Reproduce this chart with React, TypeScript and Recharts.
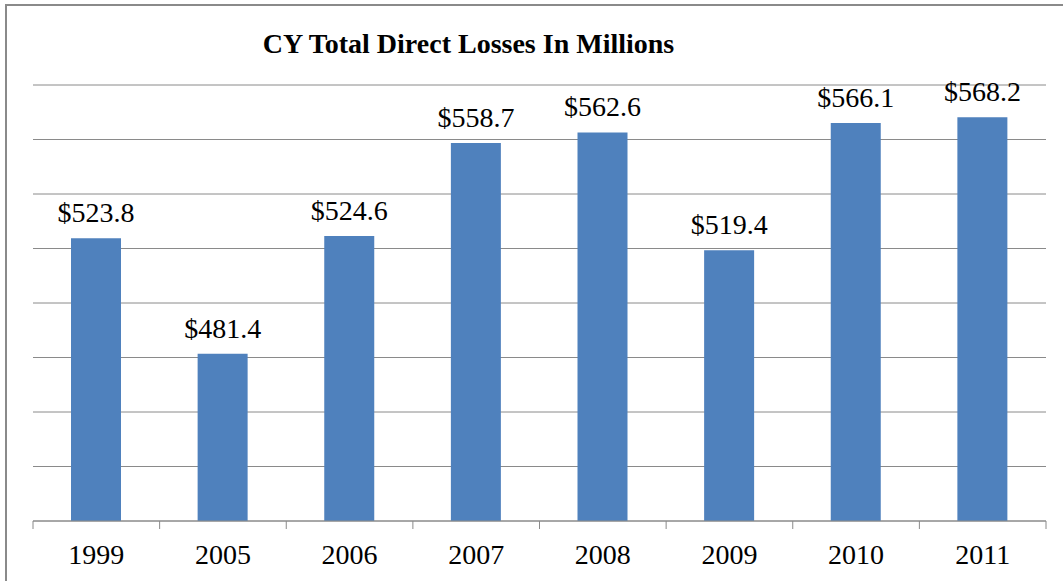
import React from "react";
import { BarChart, Bar, XAxis, YAxis, CartesianGrid, LabelList } from "recharts";

const years = ["1999", "2005", "2006", "2007", "2008", "2009", "2010", "2011"];
const losses = [523.8, 481.4, 524.6, 558.7, 562.6, 519.4, 566.1, 568.2];
const yTicks = [420, 440, 460, 480, 500, 520, 540, 560, 580];
const title = "CY Total Direct Losses In Millions";

const data = years.map((y, i) => ({ year: y, value: losses[i] }));

const FONT = '"Liberation Serif", "Times New Roman", serif';
const CHART_W = 1063;
const MARGIN = { top: 85, right: 17, left: 33, bottom: 0 };
const HALF_BAND = (CHART_W - MARGIN.left - MARGIN.right) / years.length / 2;
const TICK_SIZE = 8;
const TICK_MARGIN = 15;
const GRAY = "#8a8a8a";

const YearTick = (props: any) => {
  const { x, y, payload, index } = props;
  const base = y - TICK_MARGIN - TICK_SIZE;
  const isLast = index === years.length - 1;
  return (
    <g>
      <line x1={x - HALF_BAND} x2={x - HALF_BAND} y1={base} y2={base + TICK_SIZE} stroke={GRAY} />
      {isLast && (
        <line x1={x + HALF_BAND} x2={x + HALF_BAND} y1={base} y2={base + TICK_SIZE} stroke={GRAY} />
      )}
      <text x={x} y={y} dy="0.71em" textAnchor="middle" fill="#000" fontSize={28} fontFamily={FONT}>
        {payload.value}
      </text>
    </g>
  );
};

export default function App() {
  return (
    <div style={{ position: "absolute", left: 0, top: 0, width: 1063, height: 581, background: "#fff", overflow: "hidden" }}>
      <div
        style={{
          position: "absolute",
          left: 5,
          top: 4,
          width: 1100,
          height: 700,
          borderLeft: "2px solid #8a8a8a",
          borderTop: "2px solid #8a8a8a",
        }}
      />
      <div
        style={{
          position: "absolute",
          left: 0,
          top: 29.5,
          width: 937,
          textAlign: "center",
          fontFamily: FONT,
          fontWeight: "bold",
          fontSize: 28,
          lineHeight: "28px",
          color: "#000",
          whiteSpace: "nowrap",
        }}
      >
        {title}
      </div>
      <div style={{ position: "absolute", left: 0, top: 0 }}>
        <BarChart width={CHART_W} height={581} data={data} margin={MARGIN}>
          <CartesianGrid horizontal vertical={false} stroke={GRAY} strokeWidth={1} />
          <XAxis
            dataKey="year"
            interval={0}
            height={60}
            tickSize={TICK_SIZE}
            tickMargin={TICK_MARGIN}
            tickLine={false}
            stroke={GRAY}
            tick={<YearTick />}
          />
          <YAxis hide domain={[420, 580]} ticks={yTicks} type="number" allowDataOverflow />
          <Bar dataKey="value" fill="#4F81BD" barSize={50} isAnimationActive={false}>
            <LabelList
              dataKey="value"
              position="top"
              offset={16}
              formatter={(v: number) => `$${Number(v).toFixed(1)}`}
              style={{ fill: "#000", fontSize: 28, fontFamily: FONT }}
            />
          </Bar>
        </BarChart>
      </div>
    </div>
  );
}
